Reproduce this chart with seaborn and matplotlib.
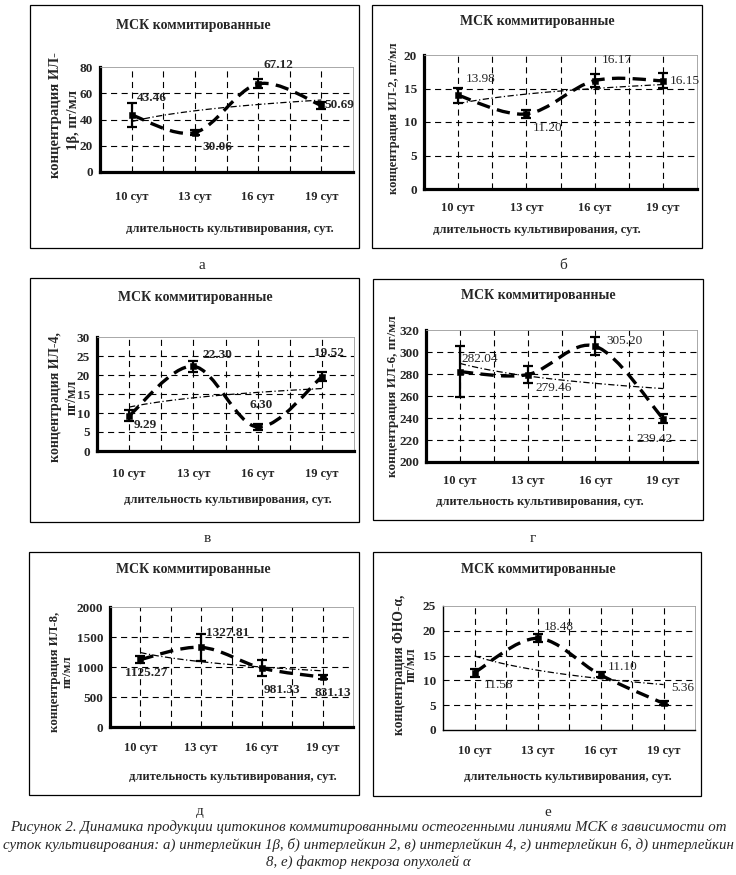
import numpy as np
import matplotlib
matplotlib.use('Agg')
import matplotlib.pyplot as plt
from matplotlib.path import Path
from matplotlib.patches import PathPatch, Rectangle
import seaborn as sns

# Step 1: data
days = ["10 сут", "13 сут", "16 сут", "19 сут"]

il1b = [43.46, 30.06, 67.12, 50.69]
il1b_err = [9.0, 2.0, 3.5, 3.0]

il2 = [13.98, 11.20, 16.17, 16.15]
il2_err = [1.1, 0.6, 1.0, 1.1]

il4 = [9.29, 22.30, 6.30, 19.52]
il4_err = [1.5, 1.5, 0.8, 1.2]

il6 = [282.04, 279.46, 305.20, 239.42]
il6_err = [23.0, 8.0, 8.0, 4.0]

il8 = [1125.27, 1327.81, 981.33, 831.13]
il8_err = [60.0, 220.0, 130.0, 30.0]

tnf = [11.58, 18.48, 11.10, 5.36]
tnf_err = [0.8, 0.8, 0.5, 0.4]

title = "МСК коммитированные"
xlabel = "длительность культивирования, сут."
caption = ["Рисунок 2. Динамика продукции цитокинов коммитированными остеогенными линиями МСК в зависимости от",
           "суток культивирования: а) интерлейкин 1β, б) интерлейкин 2, в) интерлейкин 4, г) интерлейкин 6, д) интерлейкин",
           "8, е) фактор некроза опухолей α"]

W, H = 736, 875


def smooth_path(xs, ys):
    # excel-like smoothed line (catmull-rom as cubic bezier)
    pts = [np.array(p, dtype=float) for p in zip(xs, ys)]
    ext = [pts[0]] + pts + [pts[-1]]
    verts = [tuple(pts[0])]
    codes = [Path.MOVETO]
    for i in range(1, len(ext) - 2):
        p0, p1, p2, p3 = ext[i - 1], ext[i], ext[i + 1], ext[i + 2]
        c1 = p1 + (p2 - p0) / 6
        c2 = p2 - (p3 - p1) / 6
        verts += [tuple(c1), tuple(c2), tuple(p2)]
        codes += [Path.CURVE4] * 3
    return Path(verts, codes)


def ftext(fig, x, y, s, **kw):
    fig.text(x / W, 1 - y / H, s, **kw)


def draw_panel(fig, p):
    l, t, r, b = p['box']
    fig.add_artist(Rectangle((l / W, 1 - b / H), (r - l) / W, (b - t) / H,
                             transform=fig.transFigure, fill=False, lw=0.9, ec='black'))
    al, at, ar, ab = p['ax']
    ax = fig.add_axes([al / W, 1 - ab / H, (ar - al) / W, (ab - at) / H])
    ax.set_facecolor('white')

    vals, err = p['vals'], p['err']
    xpos = np.arange(len(days))
    ymin, ymax, step = p['ylim']

    # grid lines at categories and between them
    for gx in np.arange(0, 3.01, 0.5):
        ax.axvline(gx, color='black', lw=0.8, ls=(0, (5.5, 4)), zorder=0)
    for gy in np.arange(ymin + step, ymax - step / 2, step):
        ax.axhline(gy, color='black', lw=0.8, ls=(0, (5.5, 4)), zorder=0)

    # logarithmic trend line
    k, c = np.polyfit(np.log(xpos + 1), vals, 1)
    xf = np.linspace(0, 3, 60)
    sns.lineplot(x=xf, y=c + k * np.log(xf + 1), ax=ax, color='black',
                 linewidth=0.9, linestyle=(0, (5, 2, 1, 2)), zorder=1)

    # smoothed dashed series
    ax.add_patch(PathPatch(smooth_path(xpos, vals), fill=False, ec='black',
                           lw=2.4, ls=(0, (4, 2.2)), zorder=2))
    ax.errorbar(xpos, vals, yerr=err, fmt='none', ecolor='black',
                elinewidth=1.6, capsize=3.5, capthick=1.6, zorder=3)
    sns.scatterplot(x=xpos, y=vals, ax=ax, marker='s', s=22, color='black',
                    edgecolor='black', zorder=4)

    for i, v in enumerate(vals):
        dx, dy, ha = p['lab'][i]
        ax.annotate(f"{v:.2f}", (xpos[i], v), xytext=(dx * 0.72, dy * 0.72),
                    textcoords='offset points', ha=ha, va='center',
                    fontsize=9.5, fontweight=p['labw'], zorder=5,
                    annotation_clip=False)

    ax.set_xlim(-0.5, 3.5)
    ax.set_ylim(ymin, ymax)
    ax.set_yticks(np.arange(ymin, ymax + 1e-9, step))
    ax.set_yticklabels([f"{v:g}" for v in np.arange(ymin, ymax + 1e-9, step)],
                       fontsize=9.5, fontweight='bold')
    ax.set_xticks(xpos)
    ax.set_xticklabels(days, fontsize=9, fontweight='bold')
    ax.set_xticks(np.arange(-0.5, 3.6, 1), minor=True)
    ax.set_xlabel('')
    ax.set_ylabel('')
    spw = 2.3 if p['thick'] else 1.0
    for s in ['left', 'bottom']:
        ax.spines[s].set_linewidth(spw)
        ax.spines[s].set_color('black')
    for s in ['top', 'right']:
        ax.spines[s].set_linewidth(0.6)
        ax.spines[s].set_color('#9a9a9a')
    ax.tick_params(axis='x', which='major', length=0, pad=p['tpad'])
    ax.tick_params(axis='x', which='minor', length=4, width=spw, direction='out')
    ax.tick_params(axis='y', length=3, width=spw, direction='out', pad=2)
    ax.grid(False)

    ftext(fig, p['title'][0], p['title'][1], title, ha='center', va='center',
          fontsize=10, fontweight='bold')
    ftext(fig, p['xl'][0], p['xl'][1], xlabel, ha='center', va='center',
          fontsize=9, fontweight='bold')
    for s, x, y in p['yl']:
        ftext(fig, x, y, s, ha='center', va='center', rotation=90,
              fontsize=p['ys'], fontweight='bold')
    ftext(fig, p['letter'][1], p['letter'][2], p['letter'][0], ha='center',
          va='center', fontsize=11)


def main():
    sns.set_theme(style='white')
    plt.rcParams['font.family'] = ['Liberation Serif', 'DejaVu Serif']

    fig = plt.figure(figsize=(W / 100, H / 100), dpi=100)
    fig.patch.set_facecolor('white')

    panels = [
        dict(vals=il1b, err=il1b_err, box=(30, 5, 359, 248), ax=(100, 67, 353, 172),
             ylim=(0, 80, 20), title=(193, 25), xl=(230, 229), tpad=13.5,
             yl=[("концентрация ИЛ-", 56, 115), ("1β, пг/мл", 73, 120)], ys=10.5,
             letter=("а", 202, 265), thick=True, labw='bold',
             lab=[(5, 17, 'left'), (8, -14, 'left'), (5, 19, 'left'), (3, 0, 'left')]),
        dict(vals=il2, err=il2_err, box=(372, 5, 702, 248), ax=(424, 55, 697, 189),
             ylim=(0, 20, 5), title=(537, 21), xl=(537, 230), tpad=9.5,
             yl=[("концентрация ИЛ-2, пг/мл", 394, 118)], ys=9,
             letter=("б", 563, 265), thick=True, labw='normal',
             lab=[(8, 16, 'left'), (6, -14, 'left'), (7, 21, 'left'), (7, 0, 'left')]),
        dict(vals=il4, err=il4_err, box=(30, 278, 359, 522), ax=(97, 337, 354, 451),
             ylim=(0, 30, 5), title=(195, 297), xl=(228, 500), tpad=12.5,
             yl=[("концентрация ИЛ-4,", 55, 397), ("пг/мл", 72, 397)], ys=10,
             letter=("в", 207, 538), thick=True, labw='bold',
             lab=[(4, -9, 'left'), (9, 11, 'left'), (3, 22, 'center'), (7, 24, 'center')]),
        dict(vals=il6, err=il6_err, box=(373, 279, 703, 520), ax=(426, 330, 697, 462),
             ylim=(200, 320, 20), title=(538, 295), xl=(540, 502), tpad=9.5,
             yl=[("концентрация ИЛ-6, пг/мл", 393, 396)], ys=9.5,
             letter=("г", 533, 538), thick=True, labw='normal',
             lab=[(2, 13, 'left'), (8, -13, 'left'), (11, 5, 'left'), (-9, -20, 'center')]),
        dict(vals=il8, err=il8_err, box=(29, 552, 359, 795), ax=(110, 607, 353, 727),
             ylim=(0, 2000, 500), title=(193, 570), xl=(233, 777), tpad=11,
             yl=[("концентрация ИЛ-8,", 55, 672), ("пг/мл", 68, 672)], ys=9.3,
             letter=("д", 200, 812), thick=True, labw='bold',
             lab=[(6, -14, 'center'), (5, 14, 'left'), (2, -22, 'left'), (10, -16, 'center')]),
        dict(vals=tnf, err=tnf_err, box=(373, 552, 701, 796), ax=(443, 606, 695, 730),
             ylim=(0, 25, 5), title=(538, 569), xl=(568, 777), tpad=11,
             yl=[("концентрация ФНО-α,", 399, 665), ("пг/мл", 411, 665)], ys=9.8,
             letter=("е", 548, 812), thick=False, labw='normal',
             lab=[(9, -12, 'left'), (6, 11, 'left'), (7, 8, 'left'), (8, 15, 'left')]),
    ]

    for p in panels:
        draw_panel(fig, p)

    for i, line in enumerate(caption):
        ftext(fig, 368, 827 + i * 17.5, line, ha='center', va='center',
              fontsize=10.7, fontstyle='italic')

    fig.savefig('out.png', dpi=100, facecolor='white')


if __name__ == '__main__':
    main()
